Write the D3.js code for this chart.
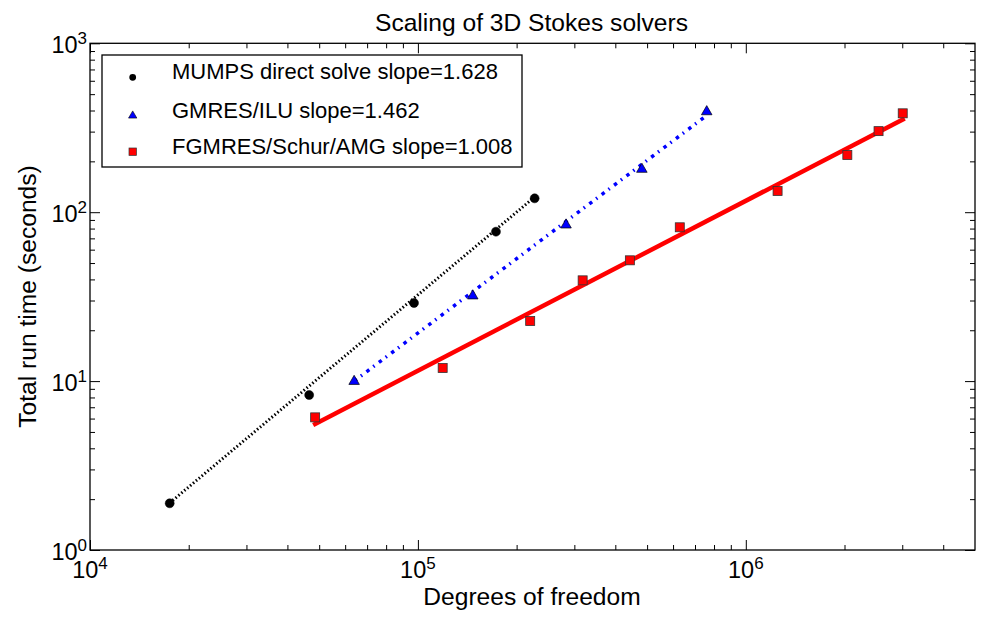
<!DOCTYPE html>
<html>
<head>
<meta charset="utf-8">
<script src="https://cdn.jsdelivr.net/npm/d3@7"></script>
<style>
  html, body { margin: 0; padding: 0; background: #fff; }
  svg { display: block; font-family: "Liberation Sans", Arial, Helvetica, sans-serif; }
</style>
</head>
<body>
<svg id="chart" width="1000" height="618"></svg>
<script>
// ---- Data ----
const mumpsDof  = [1.75e4, 4.66e4, 9.73e4, 1.73e5, 2.27e5];
const mumpsTime = [1.89, 8.27, 29.0, 76.7, 120.8];
const gmresDof  = [6.39e4, 1.47e5, 2.83e5, 4.82e5, 7.60e5];
const gmresTime = [10.1, 32.4, 85.2, 182, 399];
const fgmresDof  = [4.86e4, 1.19e5, 2.20e5, 3.18e5, 4.43e5, 6.29e5, 1.25e6, 2.04e6, 2.54e6, 3.01e6];
const fgmresTime = [6.10, 11.96, 22.7, 39.5, 51.9, 81.4, 133.6, 218, 302, 385];

// fitted power-law lines (end points)
const mumpsFitDof  = [1.75e4, 2.27e5];
const mumpsFitTime = [1.9, 123];
const gmresFitDof  = [6.39e4, 7.60e5];
const gmresFitTime = [10.0, 374];
const fgmresFitDof  = [4.86e4, 3.01e6];
const fgmresFitTime = [5.57, 354];

const legendLabels = ["MUMPS direct solve slope=1.628", "GMRES/ILU slope=1.462", "FGMRES/Schur/AMG slope=1.008"];
const xMajorExp = [4, 5, 6];
const yMajorExp = [0, 1, 2, 3];
const xDomain = [1e4, 5e6];
const yDomain = [1, 1000];

// ---- Layout ----
const L = 90, R = 975, T = 43.3, B = 550;
const svg = d3.select("#chart");
const x = d3.scaleLog().domain(xDomain).range([L, R]);
const y = d3.scaleLog().domain(yDomain).range([B, T]);

function minorTicks(domain) {
  const out = [];
  const e0 = Math.floor(Math.log10(domain[0])), e1 = Math.ceil(Math.log10(domain[1]));
  for (let e = e0; e <= e1; e++) {
    for (let m = 2; m <= 9; m++) {
      const v = m * Math.pow(10, e);
      if (v > domain[0] && v < domain[1]) out.push(v);
    }
  }
  return out;
}
const xMajor = xMajorExp.map(e => Math.pow(10, e));
const yMajor = yMajorExp.map(e => Math.pow(10, e));

// ---- Axes ticks (inward, all four sides) ----
function drawTicks(axisFn, scale, values, size, transform) {
  const g = svg.append("g").attr("transform", transform)
    .call(axisFn(scale).tickValues(values).tickSize(size).tickFormat(""));
  g.select(".domain").remove();
  g.selectAll(".tick line").attr("stroke", "#000").attr("stroke-width", 1);
}
drawTicks(d3.axisBottom, x, xMajor, -10, `translate(0,${B})`);
drawTicks(d3.axisBottom, x, minorTicks(xDomain), -5, `translate(0,${B})`);
drawTicks(d3.axisTop, x, xMajor, -10, `translate(0,${T})`);
drawTicks(d3.axisTop, x, minorTicks(xDomain), -5, `translate(0,${T})`);
drawTicks(d3.axisLeft, y, yMajor, -10, `translate(${L},0)`);
drawTicks(d3.axisLeft, y, minorTicks(yDomain), -5, `translate(${L},0)`);
drawTicks(d3.axisRight, y, yMajor, -10, `translate(${R},0)`);
drawTicks(d3.axisRight, y, minorTicks(yDomain), -5, `translate(${R},0)`);

// ---- Fit lines ----
const line = d3.line().x(d => x(d[0])).y(d => y(d[1]));
svg.append("path").datum(d3.zip(mumpsFitDof, mumpsFitTime))
  .attr("d", line).attr("fill", "none").attr("stroke", "#000")
  .attr("stroke-width", 3).attr("stroke-dasharray", "1.5,2.3");
svg.append("path").datum(d3.zip(gmresFitDof, gmresFitTime))
  .attr("d", line).attr("fill", "none").attr("stroke", "#0000ff")
  .attr("stroke-width", 3.5).attr("stroke-dasharray", "3.5,5,1.5,5.5");
svg.append("path").datum(d3.zip(fgmresFitDof, fgmresFitTime))
  .attr("d", line).attr("fill", "none").attr("stroke", "#ff0000")
  .attr("stroke-width", 4.5).attr("stroke-linecap", "square");

// ---- Markers ----
const circ = d3.symbol().type(d3.symbolCircle).size(Math.PI * 4.5 * 4.5);
const tri = d3.symbol().type(d3.symbolTriangle).size(48);
svg.append("g").selectAll("path").data(d3.zip(mumpsDof, mumpsTime)).join("path")
  .attr("d", circ).attr("transform", d => `translate(${x(d[0])},${y(d[1])})`)
  .attr("fill", "#000").attr("stroke", "#000").attr("stroke-width", 0.5);
svg.append("g").selectAll("path").data(d3.zip(gmresDof, gmresTime)).join("path")
  .attr("d", tri).attr("transform", d => `translate(${x(d[0])},${y(d[1]) + 1})`)
  .attr("fill", "#0000ff").attr("stroke", "#000").attr("stroke-width", 0.7);
svg.append("g").selectAll("rect").data(d3.zip(fgmresDof, fgmresTime)).join("rect")
  .attr("x", d => x(d[0]) - 4.5).attr("y", d => y(d[1]) - 4.5)
  .attr("width", 9).attr("height", 9)
  .attr("fill", "#ff0000").attr("stroke", "#333").attr("stroke-width", 0.8);

// ---- Frame ----
svg.append("rect").attr("x", L).attr("y", T).attr("width", R - L).attr("height", B - T)
  .attr("fill", "none").attr("stroke", "#000").attr("stroke-width", 1.3);

// ---- Tick labels ----
const xl = svg.append("g").selectAll("text").data(xMajorExp).join("text")
  .attr("x", e => x(Math.pow(10, e))).attr("y", 577.7)
  .attr("text-anchor", "middle").attr("font-size", 23.5).attr("fill", "#000");
xl.append("tspan").text("10");
xl.append("tspan").attr("dy", -9).attr("font-size", 17).text(e => e);

const yl = svg.append("g").selectAll("text").data(yMajorExp).join("text")
  .attr("x", 87).attr("y", e => y(Math.pow(10, e)) + 10)
  .attr("text-anchor", "end").attr("font-size", 23.5).attr("fill", "#000");
yl.append("tspan").text("10");
yl.append("tspan").attr("dy", -9).attr("font-size", 17).text(e => e);

// ---- Titles ----
svg.append("text").attr("x", 531.5).attr("y", 30.5).attr("text-anchor", "middle")
  .attr("font-size", 24.6).text("Scaling of 3D Stokes solvers");
svg.append("text").attr("x", 532).attr("y", 605).attr("text-anchor", "middle")
  .attr("font-size", 24.6).text("Degrees of freedom");
svg.append("text").attr("transform", "translate(36,296.5) rotate(-90)")
  .attr("text-anchor", "middle").attr("font-size", 24.6).text("Total run time (seconds)");

// ---- Legend ----
const lg = svg.append("g");
lg.append("rect").attr("x", 102).attr("y", 55).attr("width", 420).attr("height", 112)
  .attr("fill", "#fff").attr("stroke", "#000").attr("stroke-width", 1.3);
const legY = [77.3, 115.7, 151.7];
lg.append("path").attr("d", d3.symbol().type(d3.symbolCircle).size(Math.PI * 3.4 * 3.4)())
  .attr("transform", `translate(132.7,${legY[0]})`).attr("fill", "#000");
lg.append("path").attr("d", d3.symbol().type(d3.symbolTriangle).size(30)())
  .attr("transform", `translate(132.7,${legY[1]})`).attr("fill", "#0000ff").attr("stroke", "#000").attr("stroke-width", 0.6);
lg.append("rect").attr("x", 132.7 - 3.7).attr("y", legY[2] - 3.7).attr("width", 7.4).attr("height", 7.4)
  .attr("fill", "#ff0000").attr("stroke", "#333").attr("stroke-width", 0.7);
lg.selectAll("text.leg").data(legendLabels).join("text").attr("class", "leg")
  .attr("x", 172).attr("y", (d, i) => legY[i] + 2).attr("font-size", 22).text(d => d);
</script>
</body>
</html>
